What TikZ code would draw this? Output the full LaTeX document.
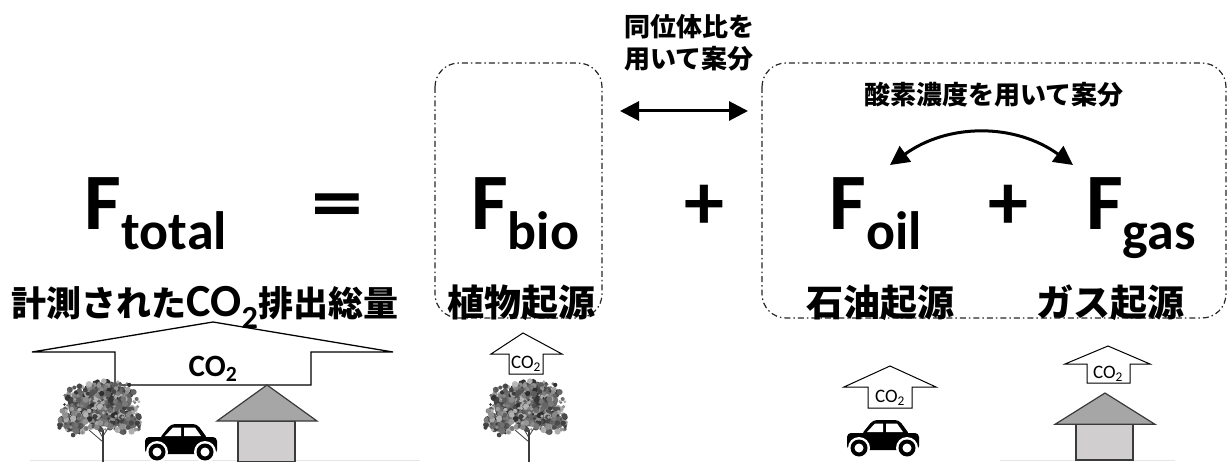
\documentclass[tikz,border=0pt]{standalone}
\usepackage{fontspec}
\setmainfont{Carlito}
\newfontfamily\jpfont{Noto Sans CJK JP}
\usetikzlibrary{arrows.meta}
\definecolor{grpLine}{HTML}{262626}
\definecolor{roofFill}{HTML}{A6A6A6}
\definecolor{wallFill}{HTML}{D0CECE}
\definecolor{houseLine}{HTML}{3A3A3A}
\definecolor{trunkGray}{HTML}{3C3C3C}
\definecolor{groundLine}{HTML}{E6E6E6}

\begin{document}
\begin{tikzpicture}[
  x=1pt, y=-1pt,
  bigF/.style={anchor=base, inner sep=0pt, font=\bfseries\fontsize{80}{80}\selectfont},
  srcLabel/.style={anchor=base, inner sep=0pt, font=\jpfont\bfseries\fontsize{37}{37}\selectfont},
  note/.style={align=center, inner sep=0pt, font=\jpfont\bfseries\fontsize{26}{32}\selectfont},
  grpBox/.style={draw=grpLine, line width=1.2pt, rounded corners=24pt,
    dash pattern=on 6pt off 3pt on 1.5pt off 3pt},
  co2Arr/.style={draw=black, fill=white, line width=1pt},
  co2Big/.style={inner sep=0pt, font=\bfseries\fontsize{31}{31}\selectfont},
  co2Small/.style={inner sep=0pt, font=\fontsize{19}{19}\selectfont},
  arrBoth/.style={{Triangle[length=19pt,width=19pt]}-{Triangle[length=19pt,width=19pt]}, line width=3pt},
  tree/.pic={
    \pgfmathsetseed{42}
    \draw[trunkGray, line width=2pt] (0,0) -- (0,-32);
    \draw[trunkGray, line width=0.8pt] (0,-20) -- (-14,-32) (0,-24) -- (-8,-38) (0,-26) -- (9,-40);
    % crown built from a few lobes of leaf dots
    \foreach \cx/\cy/\rx/\ry/\n in {-18/-56/24/22/150, 12/-62/24/19/140, -30/-38/15/11/60,
                                  24/-40/16/11/60, -2/-72/16/10/60, 0/-44/20/12/80}{
      \fill[black!58] (\cx,\cy) ellipse [x radius=0.7*\rx, y radius=0.7*\ry];
      \foreach \k in {1,...,\n}{
        \pgfmathsetmacro\ang{360*rnd}
        \pgfmathsetmacro\rr{sqrt(rnd)}
        \pgfmathtruncatemacro\sh{28+55*rnd}
        \fill[black!\sh] ({\cx+\rx*\rr*cos(\ang)},{\cy+\ry*\rr*sin(\ang)}) circle[radius=1.2+2*rnd];
      }
    }
  },
  car/.pic={
    \fill[black, rounded corners=4pt] (0,13) -- (72,13) -- (72,30) -- (0,30) -- cycle;
    \fill[black, rounded corners=4pt] (14,15) -- (26,0) -- (52,0) -- (63,15) -- cycle;
    \fill[white] (20,12) -- (28,3.5) -- (36,3.5) -- (36,12) -- cycle;
    \fill[white] (39,12) -- (39,3.5) -- (50,3.5) -- (56,12) -- cycle;
    \foreach \wx in {12,60}{
      \fill[white] (\wx,28) circle[radius=11];
      \fill[black] (\wx,28) circle[radius=8.5];
      \fill[white] (\wx,28) circle[radius=4.5];
    }
  },
  house/.pic={
    \filldraw[fill=wallFill, draw=houseLine, line width=1.2pt] (-29,36) rectangle (28,77);
    \filldraw[fill=roofFill, draw=houseLine, line width=1.2pt] (0,0) -- (50,36) -- (-50,36) -- cycle;
  }
]
\useasboundingbox (0,0) rectangle (1228,462);

% groups
\draw[grpBox] (435,63) rectangle (602,318);
\draw[grpBox] (762,63) rectangle (1226,318);

% ground
\draw[groundLine, line width=1pt] (30,460) -- (420,460);
\draw[groundLine, line width=1pt] (1000,460) -- (1175,460);

% emission arrows
\draw[co2Arr, line width=1.3pt] (213,322) -- (393,352) -- (311,352) -- (311,385) -- (115,385) -- (115,352) -- (32,352) -- cycle;
\draw[co2Arr] (523,333) -- (562,354) -- (543,354) -- (543,374) -- (509,374) -- (509,354) -- (491,354) -- cycle;
\draw[co2Arr] (890,366) -- (936,387) -- (912,387) -- (912,408) -- (868,408) -- (868,387) -- (844,387) -- cycle;
\draw[co2Arr] (1108,346) -- (1150,364) -- (1130,364) -- (1130,383) -- (1087,383) -- (1087,364) -- (1065,364) -- cycle;

\node[co2Big] (cTot) at (213,369) {CO\textsubscript{2}};
\node[co2Small] (cBio) at (526,364) {CO\textsubscript{2}};
\node[co2Small] (cOil) at (890,398) {CO\textsubscript{2}};
\node[co2Small] (cGas) at (1108,374) {CO\textsubscript{2}};

% sources
\pic at (103,462) {tree};
\pic at (529,462) {tree};
\pic at (145,424) {car};
\pic at (847,420) {car};
\pic at (267,385) {house};
\pic[yscale=0.87] at (1105,393) {house};

% equation
\node[bigF] (Ftot) at (156,230) {F{\fontsize{54}{54}\selectfont\raisebox{-20pt}{total}}};
\node[bigF, xscale=1.3] (eq) at (337,230) {=};
\node[bigF] (Fbio) at (525,230) {F{\fontsize{54}{54}\selectfont\raisebox{-20pt}{bio}}};
\node[bigF] (plus1) at (704,230) {+};
\node[bigF] (Foil) at (876,230) {F{\fontsize{54}{54}\selectfont\raisebox{-20pt}{oil}}};
\node[bigF] (plus2) at (1008,230) {+};
\node[bigF] (Fgas) at (1141,230) {F{\fontsize{54}{54}\selectfont\raisebox{-20pt}{gas}}};

\node[srcLabel, font=\jpfont\bfseries\fontsize{35}{35}\selectfont] (Ltot) at (205,316)
  {計測された{\rmfamily\fontsize{46}{46}\selectfont CO\textsubscript{2}}排出総量};
\node[srcLabel] (Lbio) at (521,316) {植物起源};
\node[srcLabel] (Loil) at (880,316) {石油起源};
\node[srcLabel] (Lgas) at (1110,316) {ガス起源};

% apportioning
\node[note] (isoNote) at (689,43) {同位体比を\\用いて案分};
\coordinate (isoL) at (620,111);
\coordinate (isoR) at (748,111);
\draw[arrBoth] (isoL) -- (isoR);

\node[note] (oxNote) at (994,95) {酸素濃度を用いて案分};
\coordinate (oxL) at (890,165);
\coordinate (oxR) at (1073,165);
\draw[arrBoth] (oxL) .. controls +(58,-42) and +(-58,-42) .. (oxR);

\end{tikzpicture}
\end{document}
